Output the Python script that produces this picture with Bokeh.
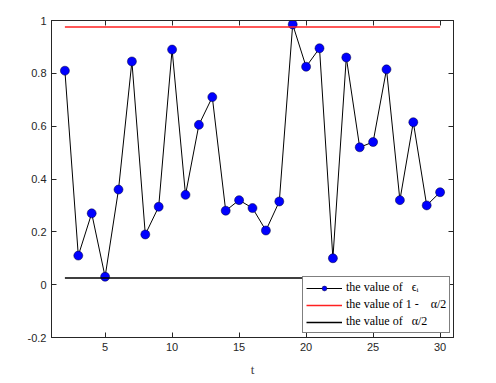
from bokeh.plotting import figure
from bokeh.models import LinearAxis, Legend, LegendItem, FixedTicker, Range1d
from bokeh.embed import file_html
from bokeh.resources import INLINE

t = list(range(2, 31))
eps = [0.81, 0.11, 0.27, 0.03, 0.36, 0.845, 0.19, 0.295, 0.89, 0.34,
       0.605, 0.71, 0.28, 0.32, 0.29, 0.205, 0.315, 0.985, 0.825, 0.895,
       0.10, 0.86, 0.52, 0.54, 0.815, 0.32, 0.615, 0.30, 0.35]
alpha = 0.05
upper = [1 - alpha / 2] * len(t)
lower = [alpha / 2] * len(t)
xticks = [5, 10, 15, 20, 25, 30]
yticks = [-0.2, 0, 0.2, 0.4, 0.6, 0.8, 1]

p = figure(frame_width=402, frame_height=317, output_backend="svg", toolbar_location=None,
           x_range=Range1d(1, 31), y_range=Range1d(-0.2, 1),
           min_border_left=51, min_border_top=20, min_border_right=30, min_border_bottom=40)
p.grid.visible = False
p.outline_line_color = "#262626"
p.background_fill_color = "white"

axcol = "#262626"
def style(ax, labels=True):
    ax.major_tick_in = 5
    ax.major_tick_out = 0
    ax.minor_tick_line_color = None
    ax.axis_line_color = axcol
    ax.major_tick_line_color = axcol
    ax.major_label_text_font = "Liberation Sans"
    ax.major_label_text_font_size = "11px"
    ax.major_label_text_color = axcol
    if not labels:
        ax.major_label_text_alpha = 0
        ax.major_label_text_font_size = "0px"

p.xaxis.ticker = FixedTicker(ticks=xticks)
p.yaxis.ticker = FixedTicker(ticks=yticks)
p.xaxis.major_label_overrides = {5: "5", 10: "10", 15: "15", 20: "20", 25: "25", 30: "30"}
p.yaxis.major_label_overrides = {-0.2: "-0.2", 0: "0", 0.2: "0.2", 0.4: "0.4", 0.6: "0.6", 0.8: "0.8", 1: "1"}
style(p.xaxis[0]); style(p.yaxis[0])
p.xaxis.axis_label = "t"
p.xaxis.axis_label_text_font = "Liberation Serif"
p.xaxis.axis_label_text_font_style = "normal"
p.xaxis.axis_label_text_font_size = "13px"
p.xaxis.axis_label_standoff = 8

top = LinearAxis(ticker=FixedTicker(ticks=xticks)); style(top, False)
right = LinearAxis(ticker=FixedTicker(ticks=yticks)); style(right, False)
p.add_layout(top, "above")
p.add_layout(right, "right")

l1 = p.line(t, eps, line_color="black", line_width=1)
c1 = p.scatter(t, eps, size=9, fill_color="#0000ff", line_color="#000033", line_width=0.5)
l2 = p.line(t, upper, line_color="#ff2020", line_width=1.5)
l3 = p.line(t, lower, line_color="black", line_width=1.5)

legend = Legend(items=[
    LegendItem(label="the value of   \u03f5\u1d62", renderers=[l1, c1]),
    LegendItem(label="the value of 1 -    \u03b1/2", renderers=[l2]),
    LegendItem(label="the value of   \u03b1/2", renderers=[l3]),
], location=(251, 4))
legend.label_text_font = "Liberation Serif"
legend.label_text_font_size = "12px"
legend.label_text_color = "black"
legend.glyph_width = 36
legend.glyph_height = 12
legend.label_height = 12
legend.spacing = 2
legend.padding = 3
legend.margin = 0
legend.label_standoff = 4
legend.border_line_color = "black"
legend.border_line_width = 1
legend.background_fill_alpha = 1
p.add_layout(legend, "center")

open("out.html", "w").write(file_html(p, INLINE))
